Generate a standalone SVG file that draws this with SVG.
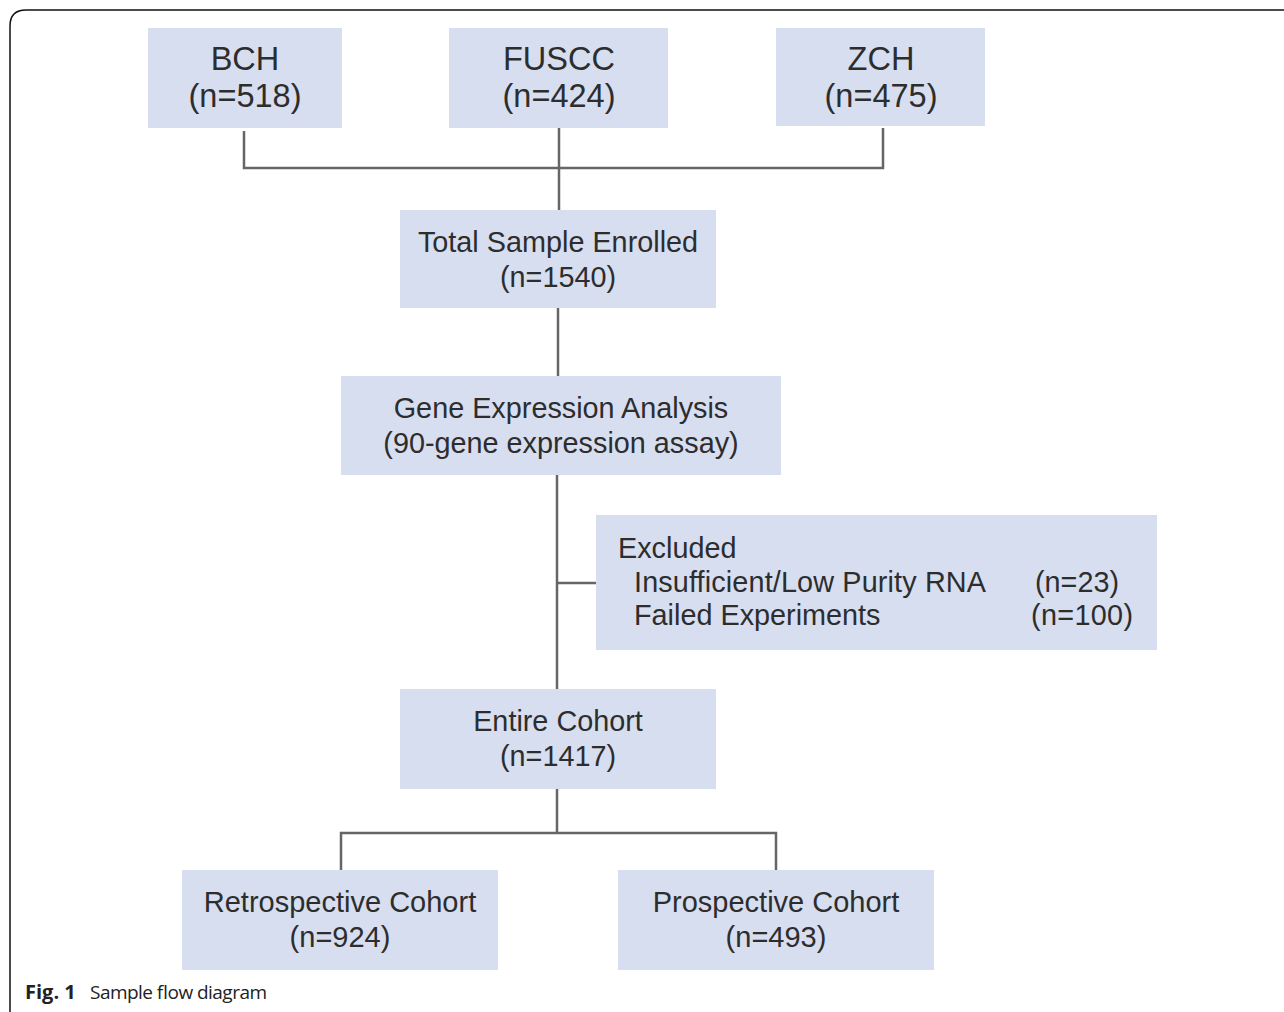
<svg xmlns="http://www.w3.org/2000/svg" width="1284" height="1012" viewBox="0 0 1284 1012">
<style>
.box{fill:#d7def0}
.t{font-family:"Liberation Sans",Arial,sans-serif;fill:#2d2d2d;text-anchor:middle}
.tl{font-family:"Liberation Sans",Arial,sans-serif;fill:#2d2d2d;font-size:28.8px}
.c{fill:none;stroke:#666;stroke-width:2.5}
</style>
<rect width="1284" height="1012" fill="#fff"/>
<path d="M10 1012 L10 26 Q10 10 26 10 L1284 10" fill="none" stroke="#111" stroke-width="1.5"/>
<g id="connectors">
<path class="c" d="M244 131 V168 H883 V128"/>
<path class="c" d="M559 128 V210"/>
<path class="c" d="M558 308 V376"/>
<path class="c" d="M557 475 V689"/>
<path class="c" d="M557 583 H596"/>
<path class="c" d="M557 789 V833"/>
<path class="c" d="M341 870 V833 H776 V870"/>
</g>
<g id="bch"><rect class="box" x="148" y="28" width="194" height="100"/>
<text class="t" font-size="32.5" x="245" y="70">BCH</text><text class="t" font-size="32.5" x="245" y="107">(n=518)</text></g>
<g id="fuscc"><rect class="box" x="449" y="28" width="219" height="100"/>
<text class="t" font-size="32.5" x="559" y="70">FUSCC</text><text class="t" font-size="32.5" x="559" y="107">(n=424)</text></g>
<g id="zch"><rect class="box" x="776" y="28" width="209" height="98"/>
<text class="t" font-size="32.5" x="881" y="70">ZCH</text><text class="t" font-size="32.5" x="881" y="107">(n=475)</text></g>
<g id="total"><rect class="box" x="400" y="210" width="316" height="98"/>
<text class="t" font-size="28.8" x="558" y="252">Total Sample Enrolled</text><text class="t" font-size="28.8" x="558" y="287">(n=1540)</text></g>
<g id="gene"><rect class="box" x="341" y="376" width="440" height="99"/>
<text class="t" font-size="28.8" x="561" y="418">Gene Expression Analysis</text><text class="t" font-size="28.8" x="561" y="453">(90-gene expression assay)</text></g>
<g id="excluded"><rect class="box" x="596" y="515" width="561" height="135"/>
<text class="tl" x="618" y="558">Excluded</text>
<text class="tl" x="634" y="592" textLength="352">Insufficient/Low Purity RNA</text>
<text class="tl" x="1035" y="592">(n=23)</text>
<text class="tl" x="634" y="625">Failed Experiments</text>
<text class="tl" x="1031" y="625" textLength="102">(n=100)</text></g>
<g id="entire"><rect class="box" x="400" y="689" width="316" height="100"/>
<text class="t" font-size="28.8" x="558" y="731">Entire Cohort</text><text class="t" font-size="28.8" x="558" y="766">(n=1417)</text></g>
<g id="retro"><rect class="box" x="182" y="870" width="316" height="100"/>
<text class="t" font-size="29" x="340" y="912">Retrospective Cohort</text><text class="t" font-size="29" x="340" y="947">(n=924)</text></g>
<g id="prosp"><rect class="box" x="618" y="870" width="316" height="100"/>
<text class="t" font-size="29" x="776" y="912">Prospective Cohort</text><text class="t" font-size="29" x="776" y="947">(n=493)</text></g>
<text x="25" y="999" font-family="'Open Sans',sans-serif" font-size="20" fill="#222"><tspan font-weight="bold">Fig. 1</tspan></text>
<text x="90" y="999" font-family="'Open Sans',sans-serif" font-size="19" fill="#222" textLength="177">Sample flow diagram</text>
</svg>
